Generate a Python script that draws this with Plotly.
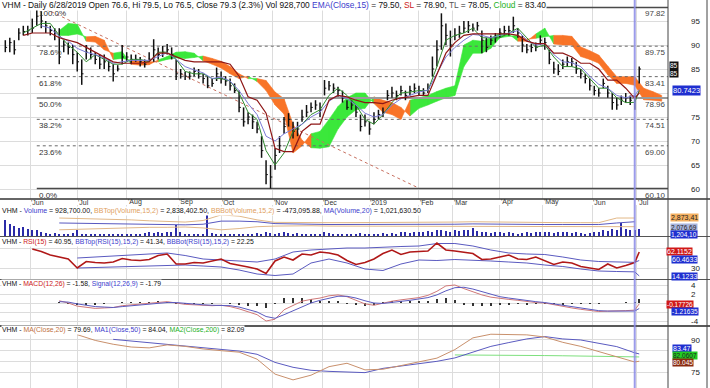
import pandas as pd
import plotly.graph_objects as go

# ---------------- trading calendar (HOSE) ----------------
holidays = ["2018-09-03", "2019-01-01", "2019-02-04", "2019-02-05", "2019-02-06",
            "2019-02-07", "2019-02-08", "2019-04-15", "2019-04-29", "2019-04-30", "2019-05-01"]
dates = pd.bdate_range("2018-05-17", "2019-07-03")
dates = dates[~dates.isin(pd.to_datetime(holidays))]
N = len(dates)

# ---------------- price data (every 2nd session) ----------------
close = [89.5, 90.5, 89.0, 92.5, 92.8, 93.0, 93.5, 96.0, 95.0, 94.0,
         93.0, 92.5, 87.5, 90.0, 89.5, 88.0, 86.5, 84.0, 88.5, 88.0,
         87.0, 86.0, 86.5, 85.5, 84.0, 85.0, 87.5, 87.5, 87.0, 87.0,
         86.5, 86.0, 87.0, 89.0, 88.0, 88.5, 89.0, 88.0, 84.0, 84.0,
         83.5, 83.5, 84.5, 84.0, 83.0, 81.5, 82.0, 84.0, 83.0, 82.5,
         81.5, 80.5, 77.0, 74.0, 75.0, 74.0, 72.5, 68.0, 63.0, 62.5,
         67.0, 69.0, 73.0, 74.5, 72.0, 72.5, 75.0, 76.0, 77.0, 77.5,
         76.5, 81.0, 81.5, 81.0, 80.5, 79.0, 77.0, 77.5, 76.0, 73.0,
         74.0, 72.5, 74.5, 75.5, 76.0, 79.5, 80.0, 79.5, 80.5, 79.5,
         80.5, 81.0, 80.5, 80.0, 81.0, 85.0, 89.0, 94.0, 92.0, 90.0,
         92.0, 92.5, 93.5, 94.0, 93.5, 94.0, 91.0, 89.5, 91.0, 91.5,
         92.5, 93.0, 93.0, 94.0, 92.5, 90.0, 89.0, 89.5, 89.5, 91.0,
         90.5, 87.0, 85.0, 84.5, 86.0, 86.5, 86.5, 85.0, 84.0, 83.0,
         81.5, 80.5, 80.0, 82.0, 80.0, 78.0, 77.5, 78.5, 79.0, 78.5,
         79.3, 85.0]
high = [91.0, 91.5, 91.0, 93.5, 94.0, 94.0, 95.5, 97.3, 97.0, 95.0,
        94.0, 93.5, 93.5, 91.0, 90.5, 90.0, 88.5, 87.0, 90.0, 89.5,
        88.5, 88.0, 88.0, 87.0, 86.0, 85.8, 90.0, 88.5, 88.0, 88.0,
        87.5, 87.0, 88.5, 91.2, 89.5, 89.8, 90.2, 89.5, 87.0, 85.0,
        84.5, 84.5, 85.3, 85.0, 84.0, 83.5, 83.0, 85.3, 84.5, 83.5,
        83.0, 82.0, 80.5, 77.0, 76.0, 75.5, 74.0, 71.0, 66.0, 65.0,
        68.5, 71.0, 75.0, 75.8, 74.0, 74.0, 76.5, 77.5, 78.0, 78.5,
        78.0, 82.7, 82.5, 82.0, 81.3, 80.5, 78.5, 78.5, 77.5, 75.5,
        75.5, 74.0, 76.0, 76.5, 77.0, 80.6, 81.3, 80.5, 81.5, 80.5,
        81.5, 82.0, 81.5, 81.0, 82.0, 87.6, 91.0, 96.6, 94.5, 93.0,
        93.5, 94.0, 95.0, 95.0, 94.5, 94.8, 93.0, 91.5, 92.0, 92.5,
        93.5, 94.0, 94.0, 95.9, 93.5, 92.0, 90.2, 90.3, 90.5, 92.0,
        91.5, 89.0, 86.5, 86.0, 87.0, 87.6, 87.3, 86.5, 85.0, 84.0,
        83.0, 81.5, 81.0, 83.0, 81.5, 80.0, 79.0, 79.5, 80.0, 79.5,
        79.5, 85.5]
low = [88.5, 88.5, 88.0, 91.0, 92.0, 92.0, 92.5, 94.0, 93.5, 92.5,
       92.0, 91.0, 86.0, 88.5, 88.0, 86.0, 84.5, 81.7, 87.0, 87.0,
       86.0, 85.0, 85.0, 84.5, 82.4, 84.5, 86.0, 86.5, 86.0, 86.5,
       85.5, 85.3, 86.5, 86.5, 87.0, 87.5, 88.0, 87.0, 82.7, 83.0,
       82.7, 82.8, 83.5, 83.0, 82.0, 81.0, 81.3, 82.5, 82.0, 81.5,
       80.5, 80.0, 76.0, 73.0, 73.5, 72.5, 71.6, 66.5, 61.0, 60.1,
       64.0, 67.5, 71.5, 73.0, 70.5, 71.0, 74.0, 75.0, 76.0, 76.5,
       75.0, 79.5, 80.5, 80.0, 79.2, 78.0, 76.5, 76.5, 75.0, 72.0,
       73.0, 71.3, 73.5, 74.5, 75.0, 78.5, 79.0, 78.5, 79.5, 78.5,
       79.5, 80.0, 79.5, 79.5, 80.0, 83.4, 85.5, 89.0, 90.0, 87.6,
       91.0, 91.5, 92.5, 92.5, 92.8, 93.0, 88.3, 88.5, 90.0, 90.5,
       91.5, 92.0, 92.0, 92.5, 91.5, 88.5, 88.3, 88.5, 88.7, 90.0,
       89.0, 86.0, 84.0, 83.7, 85.0, 85.5, 85.5, 84.0, 83.0, 82.0,
       80.5, 79.5, 79.2, 81.0, 79.0, 76.5, 76.5, 77.5, 78.0, 77.5,
       76.5, 82.0]
volume_m = [2.6, 2.0, 1.6, 1.3, 1.5, 1.1, 1.0, 0.9, 0.6, 0.5,
            0.4, 0.5, 0.3, 0.4, 0.3, 0.5, 0.9, 0.4, 0.3, 0.3,
            0.4, 0.3, 0.3, 0.4, 0.3, 0.3, 0.4, 0.3, 0.3, 0.3,
            0.3, 0.5, 0.6, 0.5, 0.6, 0.5, 0.7, 0.6, 1.8, 0.6,
            0.3, 0.3, 0.4, 0.3, 0.4, 3.7, 0.5, 0.4, 0.3, 0.3,
            0.3, 0.3, 0.4, 0.3, 0.4, 0.4, 0.5, 0.4, 0.6, 0.5,
            0.4, 0.5, 0.6, 0.5, 0.4, 0.5, 0.4, 0.3, 0.4, 0.3,
            0.4, 0.6, 0.5, 0.4, 0.3, 0.3, 0.4, 0.3, 0.4, 0.5,
            0.3, 0.4, 0.3, 0.4, 0.5, 0.4, 0.5, 0.4, 0.6, 0.7,
            0.5, 0.6, 0.7, 0.6, 0.8, 0.7, 1.0, 0.9, 0.8, 0.7,
            0.9, 0.8, 1.0, 0.9, 1.3, 0.8, 0.7, 0.6, 0.5, 0.7,
            0.6, 0.5, 0.6, 0.5, 0.4, 0.5, 0.6, 0.5, 0.7, 0.6,
            0.7, 0.6, 0.5, 0.6, 0.7, 0.6, 0.5, 0.6, 0.5, 0.4,
            0.5, 0.6, 0.7, 0.9, 0.8, 1.2, 0.9, 2.1, 1.1, 1.0,
            0.93, 1.2]
bar_idx = list(range(0, N, 2))

# ---------------- indicator lines (every 4th session + last bar) ----------------
ind_idx = list(range(0, 281, 4)) + [282]
ema15 = [None, None, None, None, 94.0, 93.5, 91.8, 90.8, 89.3, 88.5,
         88.0, 87.3, 86.2, 86.5, 86.8, 86.8, 86.8, 87.6, 88.4, 87.0,
         85.5, 84.8, 84.2, 83.0, 83.3, 82.5, 80.5, 77.8, 75.5, 71.0,
         70.0, 71.5, 72.5, 73.5, 75.0, 76.0, 78.3, 79.5, 78.8, 77.5,
         75.8, 75.0, 75.5, 77.5, 78.8, 79.5, 80.2, 80.6, 84.0, 87.5,
         89.5, 91.0, 92.2, 92.0, 91.5, 92.0, 92.5, 93.0, 91.0, 90.0,
         90.3, 88.0, 86.5, 86.3, 85.5, 83.5, 81.8, 81.0, 79.5, 79.0,
         79.5, 80.74]
sl = [None, None, 92.0, 92.5, 92.5, 92.5, 91.5, 91.0, 90.5, 89.5,
      88.5, 87.5, 86.5, 86.2, 86.2, 86.2, 86.5, 88.3, 88.3, 87.5,
      86.8, 86.5, 86.5, 86.5, 86.5, 86.0, 83.5, 79.2, 78.5, 75.8,
      68.5, 67.8, 67.8, 72.0, 73.5, 73.5, 78.5, 79.5, 79.2, 78.5,
      78.0, 78.0, 77.8, 78.5, 79.0, 79.2, 79.5, 79.5, 84.0, 88.3,
      90.5, 92.0, 92.3, 92.3, 92.3, 92.3, 92.3, 92.0, 90.8, 90.3,
      90.3, 88.3, 88.3, 87.5, 86.2, 86.2, 85.0, 82.7, 82.7, 81.0,
      78.9, 80.0]
tl = [None, None, 92.5, 93.5, 94.5, 94.5, 92.0, 90.0, 88.5, 86.5,
      88.0, 87.0, 86.0, 86.0, 87.0, 87.0, 86.5, 88.5, 88.5, 87.0,
      84.5, 84.0, 84.0, 83.0, 83.0, 82.5, 80.0, 76.0, 74.5, 68.0,
      65.0, 67.5, 72.0, 73.5, 75.5, 76.5, 79.5, 81.0, 79.5, 77.5,
      74.5, 73.5, 75.5, 78.0, 80.0, 80.2, 80.5, 80.5, 85.5, 91.0,
      92.0, 92.5, 93.5, 91.5, 91.5, 91.5, 92.5, 93.5, 91.5, 89.5,
      90.0, 87.5, 85.5, 85.5, 85.0, 83.0, 81.0, 81.0, 79.0, 78.0,
      78.05, 80.5]
rsi = [None, None, None, 68, 63, 56, 52, 48, 30, 43,
       41, 40, 42, 49, 46, 45, 47, 55, 58, 38,
       38, 41, 40, 44, 48, 39, 36, 32, 28, 19,
       44, 52, 46, 58, 56, 62, 60, 56, 45, 37,
       41, 48, 59, 66, 57, 62, 63, 64, 80, 66,
       64, 62, 59, 47, 48, 52, 56, 48, 47, 52,
       45, 37, 42, 40, 33, 30, 27, 38, 30, 35,
       41, 62]
macd = [None, None, None, None, None, None, 0.5, 0.0, -0.7, -1.0,
        -1.2, -1.1, -1.0, -0.6, -0.4, -0.3, -0.1, 0.2, 0.3, 0.0,
        -0.3, -0.4, -0.5, -0.6, -0.5, -0.8, -1.3, -2.0, -2.6, -4.0,
        -3.6, -1.5, -0.6, 0.4, 0.8, 1.1, 1.6, 1.8, 1.4, 0.6,
        -0.2, -0.5, 0.0, 0.4, 0.7, 0.9, 1.2, 1.7, 2.6, 3.8,
        4.0, 3.2, 2.5, 1.8, 1.3, 1.0, 0.8, 0.6, 0.3, 0.1,
        0.0, -0.4, -0.8, -1.1, -1.4, -1.7, -1.9, -1.8, -1.8, -1.7,
        -1.58, -0.2]
signal = [None, None, None, None, None, None, 0.3, 0.2, -0.2, -0.5,
          -0.8, -0.9, -1.0, -0.8, -0.6, -0.4, -0.3, -0.1, 0.1, 0.1,
          -0.1, -0.2, -0.4, -0.5, -0.5, -0.6, -0.9, -1.4, -2.0, -3.0,
          -3.4, -2.6, -1.7, -0.8, 0.0, 0.6, 1.1, 1.5, 1.5, 1.1,
          0.5, 0.0, -0.1, 0.1, 0.4, 0.6, 0.9, 1.2, 1.8, 2.7,
          3.4, 3.5, 3.1, 2.5, 1.9, 1.4, 1.1, 0.8, 0.6, 0.3,
          0.1, -0.2, -0.5, -0.9, -1.2, -1.5, -1.7, -1.8, -1.8, -1.8,
          -1.79, -1.22]
macd_hist = [None, None, None, None, None, None, 0.2, -0.2, -0.5, -0.5,
             -0.4, -0.2, 0.0, 0.2, 0.2, 0.1, 0.2, 0.3, 0.2, -0.1,
             -0.2, -0.2, -0.1, -0.1, 0.0, -0.2, -0.4, -0.6, -0.6, -1.0,
             -0.2, 1.1, 1.1, 1.2, 0.8, 0.5, 0.5, 0.3, -0.1, -0.5,
             -0.7, -0.5, 0.1, 0.3, 0.3, 0.3, 0.3, 0.5, 0.8, 1.1,
             0.6, -0.3, -0.6, -0.7, -0.6, -0.4, -0.3, -0.2, -0.3, -0.2,
             -0.1, -0.2, -0.3, -0.2, -0.2, -0.2, -0.2, 0.0, 0.0, 0.1,
             0.2, 1.0]

# ---------------- Ichimoku cloud (span A / span B, every 4th session) ----------------
cloud_idx = list(range(24, 293, 4))
span_a = [93.0, 94.5, 94.3, 90.8, 90.6, 89.0, 88.3, 88.6, 86.0, 85.8,
          85.9, 86.9, 87.6, 88.5, 88.6, 88.3, 86.7, 86.0, 85.2, 84.0,
          83.0, 83.5, 82.4, 80.5, 77.5, 75.6, 67.5, 69.0, 71.5, 72.0,
          74.5, 77.2, 79.0, 80.0, 80.0, 77.8, 76.0, 75.5, 74.5, 78.5,
          79.0, 79.5, 80.3, 81.0, 81.5, 90.0, 91.0, 90.8, 91.5, 92.4,
          92.3, 90.8, 90.8, 92.3, 93.5, 90.2, 90.0, 90.0, 87.6, 87.0,
          86.2, 83.8, 82.0, 82.0, 81.6, 78.6, 78.5, 78.3]
span_b = [92.0, 92.0, 92.3, 91.7, 91.8, 91.0, 87.0, 87.2, 86.8, 86.6,
          86.5, 86.5, 87.0, 87.3, 87.2, 87.4, 87.7, 87.2, 86.6, 85.5,
          84.0, 83.0, 83.0, 82.6, 80.2, 78.8, 73.5, 70.2, 68.6, 68.5,
          68.8, 72.5, 75.0, 76.5, 76.8, 79.2, 78.5, 78.0, 77.0, 75.2,
          76.8, 77.5, 78.3, 79.0, 79.5, 85.5, 88.3, 88.3, 89.3, 91.5,
          91.8, 92.0, 91.2, 91.4, 91.7, 92.0, 92.0, 91.8, 89.6, 88.8,
          87.9, 85.6, 83.4, 83.4, 83.4, 81.0, 80.3, 79.5]

# ---------------- volume indicator lines (millions, every 8th session) ----------------
vol_line_idx = list(range(24, 281, 8))
vol_ma = [2.1, 2.05, 2.0, 1.95, 1.9, 1.85, 1.8, 1.8, 1.9, 2.4,
          2.4, 2.3, 2.0, 1.9, 1.9, 1.85, 1.85, 1.8, 1.8, 1.8,
          1.85, 1.9, 1.9, 1.95, 1.9, 1.85, 1.85, 1.85, 1.85, 1.8,
          1.85, 2.1, 2.3]
vol_bbtop = [2.9, 2.85, 2.8, 2.7, 2.6, 2.45, 2.3, 2.25, 2.5, 3.4,
             3.2, 2.6, 2.2, 2.15, 2.15, 2.15, 2.15, 2.15, 2.15, 2.15,
             2.2, 2.25, 2.25, 2.3, 2.25, 2.2, 2.2, 2.15, 2.15, 2.15,
             2.15, 2.9, 2.9]
vol_bbbot = [1.0, 1.1, 1.2, 1.3, 1.35, 1.4, 1.4, 1.45, 1.3, 1.0,
             1.2, 1.5, 1.6, 1.65, 1.65, 1.6, 1.6, 1.6, 1.6, 1.6,
             1.6, 1.55, 1.55, 1.6, 1.6, 1.6, 1.6, 1.6, 1.6, 1.6,
             1.6, 1.5, 1.5]

# ---------------- RSI bands and moving averages (every 8th session + last) ----------------
slow_idx = list(range(32, 281, 8)) + [282]
rsi_bbtop = [50, 52, 54, 56, 58, 60, 55, 48, 46, 44, 42, 48, 62, 66, 68, 70, 70,
             72, 73, 74, 79, 79, 74, 66, 60, 58, 57, 52, 46, 43, 42, 41.3, 45]
rsi_bbbot = [30, 31, 32, 33, 35, 36, 36, 34, 32, 26, 18, 15, 18, 40, 48, 40, 28,
             25, 38, 46, 45, 47, 46, 44, 42, 40, 36, 33, 28, 24, 23, 22.3, 14.1]
ma20 = [92.5, 89.8, 88.0, 86.7, 86.3, 87.7, 87.0, 85.8, 85.0, 84.3, 81.0, 74.0,
        71.3, 73.5, 77.5, 79.1, 76.0, 76.3, 78.0, 79.8, 81.5, 85.5, 91.0, 92.7,
        92.6, 92.4, 91.4, 88.9, 87.0, 84.6, 82.2, 79.7, 80.05]
ma50 = [None, None, 90.3, 89.5, 88.6, 87.9, 87.2, 86.4, 85.7, 84.8, 83.3, 79.5,
        77.2, 75.8, 75.3, 75.1, 74.7, 76.7, 77.8, 78.8, 80.0, 81.6, 84.2, 87.0,
        88.8, 90.5, 91.6, 90.5, 90.0, 88.5, 86.9, 84.0, 83.47]
ma200 = [None] * 21 + [83.0, 83.0, 82.95, 82.9, 82.8, 82.7, 82.6, 82.5, 82.4,
                       82.2, 82.09, 82.06]

# ---------------- Fibonacci retracement and trend line ----------------
fib_levels = [97.82, 89.75, 83.41, 78.96, 74.51, 69.00, 60.10]
fib_pct = ["100.0%", "78.6%", "61.8%", "50.0%", "38.2%", "23.6%", "0.0%"]
trend_idx = [18, 183]
trend_px = [97.5, 60.4]
cursor_date = "2019-06-28"

# ======================================================================
W, H, R = 710, 388, 42
PW = W - R
XR = [-2.36, 294.8]
FONT = "Liberation Sans, Arial, sans-serif"
GRID = "#dcdcdc"


def py(px):
    return 1 - px / H


month_pos, month_lab = [], []
for i, d in enumerate(dates):
    if i > 0 and d.month != dates[i - 1].month:
        month_pos.append(i)
        month_lab.append("2019" if d.month == 1 else d.strftime("%b"))
cursor_i = int(dates.get_loc(pd.Timestamp(cursor_date)))

fig = go.Figure()

# ---- cloud (quads between consecutive samples, coloured by sign) ----
gx, gy, ox, oy = [], [], [], []
for k in range(len(cloud_idx) - 1):
    x0, x1 = cloud_idx[k], cloud_idx[k + 1]
    quad_x = [x0, x1, x1, x0, x0, None]
    quad_y = [span_a[k], span_a[k + 1], span_b[k + 1], span_b[k], span_a[k], None]
    if span_a[k] >= span_b[k]:
        gx += quad_x; gy += quad_y
    else:
        ox += quad_x; oy += quad_y
fig.add_trace(go.Scatter(x=gx, y=gy, fill="toself", fillcolor="#3be83b", mode="lines",
                         line=dict(width=0.6, color="#3be83b"), hoverinfo="skip"))
fig.add_trace(go.Scatter(x=ox, y=oy, fill="toself", fillcolor="#f87428", mode="lines",
                         line=dict(width=0.6, color="#f87428"), hoverinfo="skip"))

# ---- fib lines ----
fib_start = bar_idx[high.index(max(high))]
for lv, pc in zip(fib_levels, fib_pct):
    if pc in ("0.0%", "100.0%"):
        st = dict(color="#4a4a4a", width=1.6)
    elif pc == "50.0%":
        st = dict(color="#9a9a9a", width=1.8)
    else:
        st = dict(color="#6a6a6a", width=1, dash="dot")
    fig.add_trace(go.Scatter(x=[fib_start, XR[1]], y=[lv, lv], mode="lines", line=st,
                             hoverinfo="skip"))
    fig.add_annotation(x=fib_start, y=lv, xref="x", yref="y", text=pc, showarrow=False,
                       xanchor="left", yanchor="top", yshift=0, xshift=0,
                       font=dict(family=FONT, size=8, color="#333"))
    fig.add_annotation(x=XR[1], y=lv, xref="x", yref="y", text=f"{lv:.2f}", showarrow=False,
                       xanchor="right", yanchor="top", yshift=0,
                       font=dict(family=FONT, size=8, color="#444"))

# ---- trend line ----
fig.add_trace(go.Scatter(x=trend_idx, y=trend_px, mode="lines",
                         line=dict(color="#c87060", width=1, dash="dot"), hoverinfo="skip"))

# ---- price bars ----
bx, by, cx, cy = [], [], [], []
for i, h, l, c in zip(bar_idx, high, low, close):
    bx += [i, i, None]; by += [l, h, None]
    cx += [i, i + 0.8, None]; cy += [c, c, None]
fig.add_trace(go.Scatter(x=bx, y=by, mode="lines", line=dict(color="#111", width=1.5),
                         hoverinfo="skip"))
fig.add_trace(go.Scatter(x=cx, y=cy, mode="lines", line=dict(color="#111", width=1),
                         hoverinfo="skip"))

# ---- main indicator lines ----
fig.add_trace(go.Scatter(x=ind_idx, y=tl, mode="lines", line=dict(color="#2f8a2f", width=1)))
fig.add_trace(go.Scatter(x=ind_idx, y=ema15, mode="lines", line=dict(color="#7b7bd6", width=1)))
fig.add_trace(go.Scatter(x=ind_idx, y=sl, mode="lines", line=dict(color="#8e1616", width=1.2)))

# ---- volume panel ----
fig.add_trace(go.Bar(x=bar_idx, y=volume_m, width=0.6, marker_color="#2b2ba8",
                     marker_line_width=0, xaxis="x2", yaxis="y2"))
fig.add_trace(go.Scatter(x=vol_line_idx, y=vol_bbtop, mode="lines", xaxis="x2", yaxis="y2",
                         line=dict(color="#e2b888", width=1)))
fig.add_trace(go.Scatter(x=vol_line_idx, y=vol_bbbot, mode="lines", xaxis="x2", yaxis="y2",
                         line=dict(color="#e2b888", width=1)))
fig.add_trace(go.Scatter(x=vol_line_idx, y=vol_ma, mode="lines", xaxis="x2", yaxis="y2",
                         line=dict(color="#5858c0", width=1)))

# ---- RSI panel ----
fig.add_trace(go.Scatter(x=slow_idx, y=rsi_bbtop, mode="lines", xaxis="x3", yaxis="y3",
                         line=dict(color="#5a5ac0", width=1)))
fig.add_trace(go.Scatter(x=slow_idx, y=rsi_bbbot, mode="lines", xaxis="x3", yaxis="y3",
                         line=dict(color="#5a5ac0", width=1)))
fig.add_trace(go.Scatter(x=ind_idx, y=rsi, mode="lines", xaxis="x3", yaxis="y3",
                         line=dict(color="#b01818", width=1.6)))

# ---- MACD panel ----
fig.add_trace(go.Bar(x=ind_idx, y=macd_hist, width=0.35, marker_color="#333",
                     marker_line_width=0, xaxis="x4", yaxis="y4"))
fig.add_trace(go.Scatter(x=ind_idx, y=macd, mode="lines", xaxis="x4", yaxis="y4",
                         line=dict(color="#d07878", width=1)))
fig.add_trace(go.Scatter(x=ind_idx, y=signal, mode="lines", xaxis="x4", yaxis="y4",
                         line=dict(color="#5a5ac0", width=1)))

# ---- MA panel ----
fig.add_trace(go.Scatter(x=slow_idx, y=ma200, mode="lines", xaxis="x5", yaxis="y5",
                         line=dict(color="#7ee07e", width=1)))
fig.add_trace(go.Scatter(x=slow_idx, y=ma50, mode="lines", xaxis="x5", yaxis="y5",
                         line=dict(color="#5a5ac0", width=1)))
fig.add_trace(go.Scatter(x=slow_idx, y=ma20, mode="lines", xaxis="x5", yaxis="y5",
                         line=dict(color="#c9906c", width=1)))

# ---------------- axes ----------------
def xax(anchor):
    return dict(range=XR, domain=[0, 1], anchor=anchor, tickvals=month_pos, showticklabels=False,
                showgrid=True, gridcolor=GRID, gridwidth=1, zeroline=False, showline=False, ticks="")


def yax(dom, rng, tv, shown, grid=True):
    return dict(domain=dom, range=rng, side="right", tickvals=tv,
                ticktext=[f"{v:g}" if v in shown else "" for v in tv], showticklabels=True,
                showgrid=grid, gridcolor=GRID, zeroline=False, showline=False, ticks="",
                ticklabelstandoff=22, tickfont=dict(family=FONT, size=8, color="#222"))


ya = yax([py(199), 1], [57.917, 99.375], [60, 65, 70, 75, 80, 85, 90, 95],
         [60, 65, 70, 75, 85, 90, 95]); ya["anchor"] = "x"
y2 = yax([py(236), py(205)], [0, 5.0], [], [], grid=False); y2["anchor"] = "x2"
y3 = yax([py(279), py(237)], [8, 92], [30, 70], [30]); y3["anchor"] = "x3"
y4 = yax([py(325), py(280)], [-4.89, 5.11], [-4, -2, 0, 2, 4], [-4, 2, 4]); y4["anchor"] = "x4"
y5 = yax([0, py(327)], [67.5, 96.09], [75, 80, 85, 90], [75, 90]); y5["anchor"] = "x5"

fig.update_layout(
    width=W, height=H, margin=dict(l=0, r=R, t=0, b=0, pad=0),
    paper_bgcolor="white", plot_bgcolor="white", showlegend=False, bargap=0,
    xaxis=xax("y"), xaxis2=dict(xax("y2"), matches="x"), xaxis3=dict(xax("y3"), matches="x"),
    xaxis4=dict(xax("y4"), matches="x"), xaxis5=dict(xax("y5"), matches="x"),
    yaxis=ya, yaxis2=y2, yaxis3=y3, yaxis4=y4, yaxis5=y5,
)

# ---------------- frame lines ----------------
shapes = []
for ypx, col, wd in [(199, "#333", 1.5), (236.5, "#555", 1.2), (279.5, "#555", 1.2), (326, "#222", 1.5)]:
    shapes.append(dict(type="line", xref="paper", yref="paper", x0=0, x1=W / PW,
                       y0=py(ypx), y1=py(ypx), line=dict(color=col, width=wd)))
shapes.append(dict(type="line", xref="paper", yref="paper", x0=1, x1=1, y0=0, y1=1,
                   line=dict(color="#444", width=1)))
shapes.append(dict(type="line", xref="paper", yref="paper", x0=707 / PW, x1=707 / PW, y0=0, y1=1,
                   line=dict(color="#444", width=1)))
shapes.append(dict(type="line", xref="x", yref="paper", x0=cursor_i, x1=cursor_i, y0=0, y1=1,
                   line=dict(color="#8a8ae6", width=2), opacity=0.85))
fig.update_layout(shapes=shapes)

# ---------------- date labels ----------------
for p, lab in zip(month_pos, month_lab):
    fig.add_annotation(x=p, y=py(202), xref="x", yref="paper", text="'" + lab, showarrow=False,
                       xanchor="left", yanchor="middle", xshift=-1,
                       font=dict(family=FONT, size=7, color="#333"))

# ---------------- panel titles ----------------
def title(ypx, html, size=7):
    fig.add_annotation(x=0.002, y=py(ypx), xref="paper", yref="paper", text=html, showarrow=False,
                       xanchor="left", yanchor="middle", bgcolor="white", borderpad=0,
                       font=dict(family=FONT, size=size, color="#111"))


def c(col, s):
    return f"<span style='color:{col}'>{s}</span>"


title(5, "VHM - Daily 6/28/2019 Open 76.6, Hi 79.5, Lo 76.5, Close 79.3 (2.3%) Vol 928,700 "
         + c("#3c3ccc", "EMA(Close,15)") + " = 79.50, " + c("#cc2020", "SL") + " = 78.90, "
         + c("#555", "TL") + " = 78.05, " + c("#22b022", "Cloud") + " = 83.40", size=8.4)
title(211, "VHM - " + c("#3c3ccc", "Volume") + " = 928,700.00, " + c("#e0a060", "BBTop(Volume,15,2)")
      + " = 2,838,402.50, " + c("#e0a060", "BBBot(Volume,15,2)") + " = -473,095.88, "
      + c("#3c3ccc", "MA(Volume,20)") + " = 1,021,630.50", size=7)
title(242, "VHM - " + c("#cc2020", "RSI(15)") + " = 40.95, " + c("#3c3ccc", "BBTop(RSI(15),15,2)")
      + " = 41.34, " + c("#3c3ccc", "BBBot(RSI(15),15,2)") + " = 22.25", size=6.8)
title(284, "VHM - " + c("#cc2020", "MACD(12,26)") + " = -1.58, " + c("#3c3ccc", "Signal(12,26,9)")
      + " = -1.79", size=6.8)
title(330, "VHM - " + c("#c07040", "MA(Close,20)") + " = 79.69, " + c("#3c3ccc", "MA1(Close,50)")
      + " = 84.04, " + c("#22b022", "MA2(Close,200)") + " = 82.09", size=6.9)


# ---------------- right value boxes ----------------
def box(xpx, ypx, text, bg, fg="white", size=7.5):
    fig.add_annotation(x=xpx / PW, y=py(ypx), xref="paper", yref="paper", text=text,
                       showarrow=False, xanchor="left", yanchor="middle", bgcolor=bg,
                       borderpad=0, font=dict(family=FONT, size=size, color=fg))


box(669, 69, "85<br>85", "#111", size=6.5)
box(672, 90, "80.7423", "#1f2fd0")
box(670, 217.5, "2,873,41", "#f4b060", "#222", size=7)
box(670, 227.5, "2,076,69", "#a8b4dc", "#222", size=6.5)
box(670, 234, "1,204,10", "#1f2fd0", size=6.5)
box(666, 251, "62.1152", "#d01818", size=7)
box(671, 259, "60.4633", "#1f2fd0", size=7)
box(671, 276, "14.1233", "#1f2fd0", size=7)
box(666, 304, "-0.17726", "#d01818", size=6.5)
box(671, 311, "-1.21635", "#1f2fd0", size=6.5)
box(672, 348, "83.47", "#1f2fd0", size=7)
box(672, 355, "82.0607", "#22cc22", "#222", size=6.5)
box(672, 362, "80.045", "#8a2a10", size=6.5)

fig.write_html("out.html", config={"displayModeBar": False},
               post_script="document.body.style.margin='0';")
